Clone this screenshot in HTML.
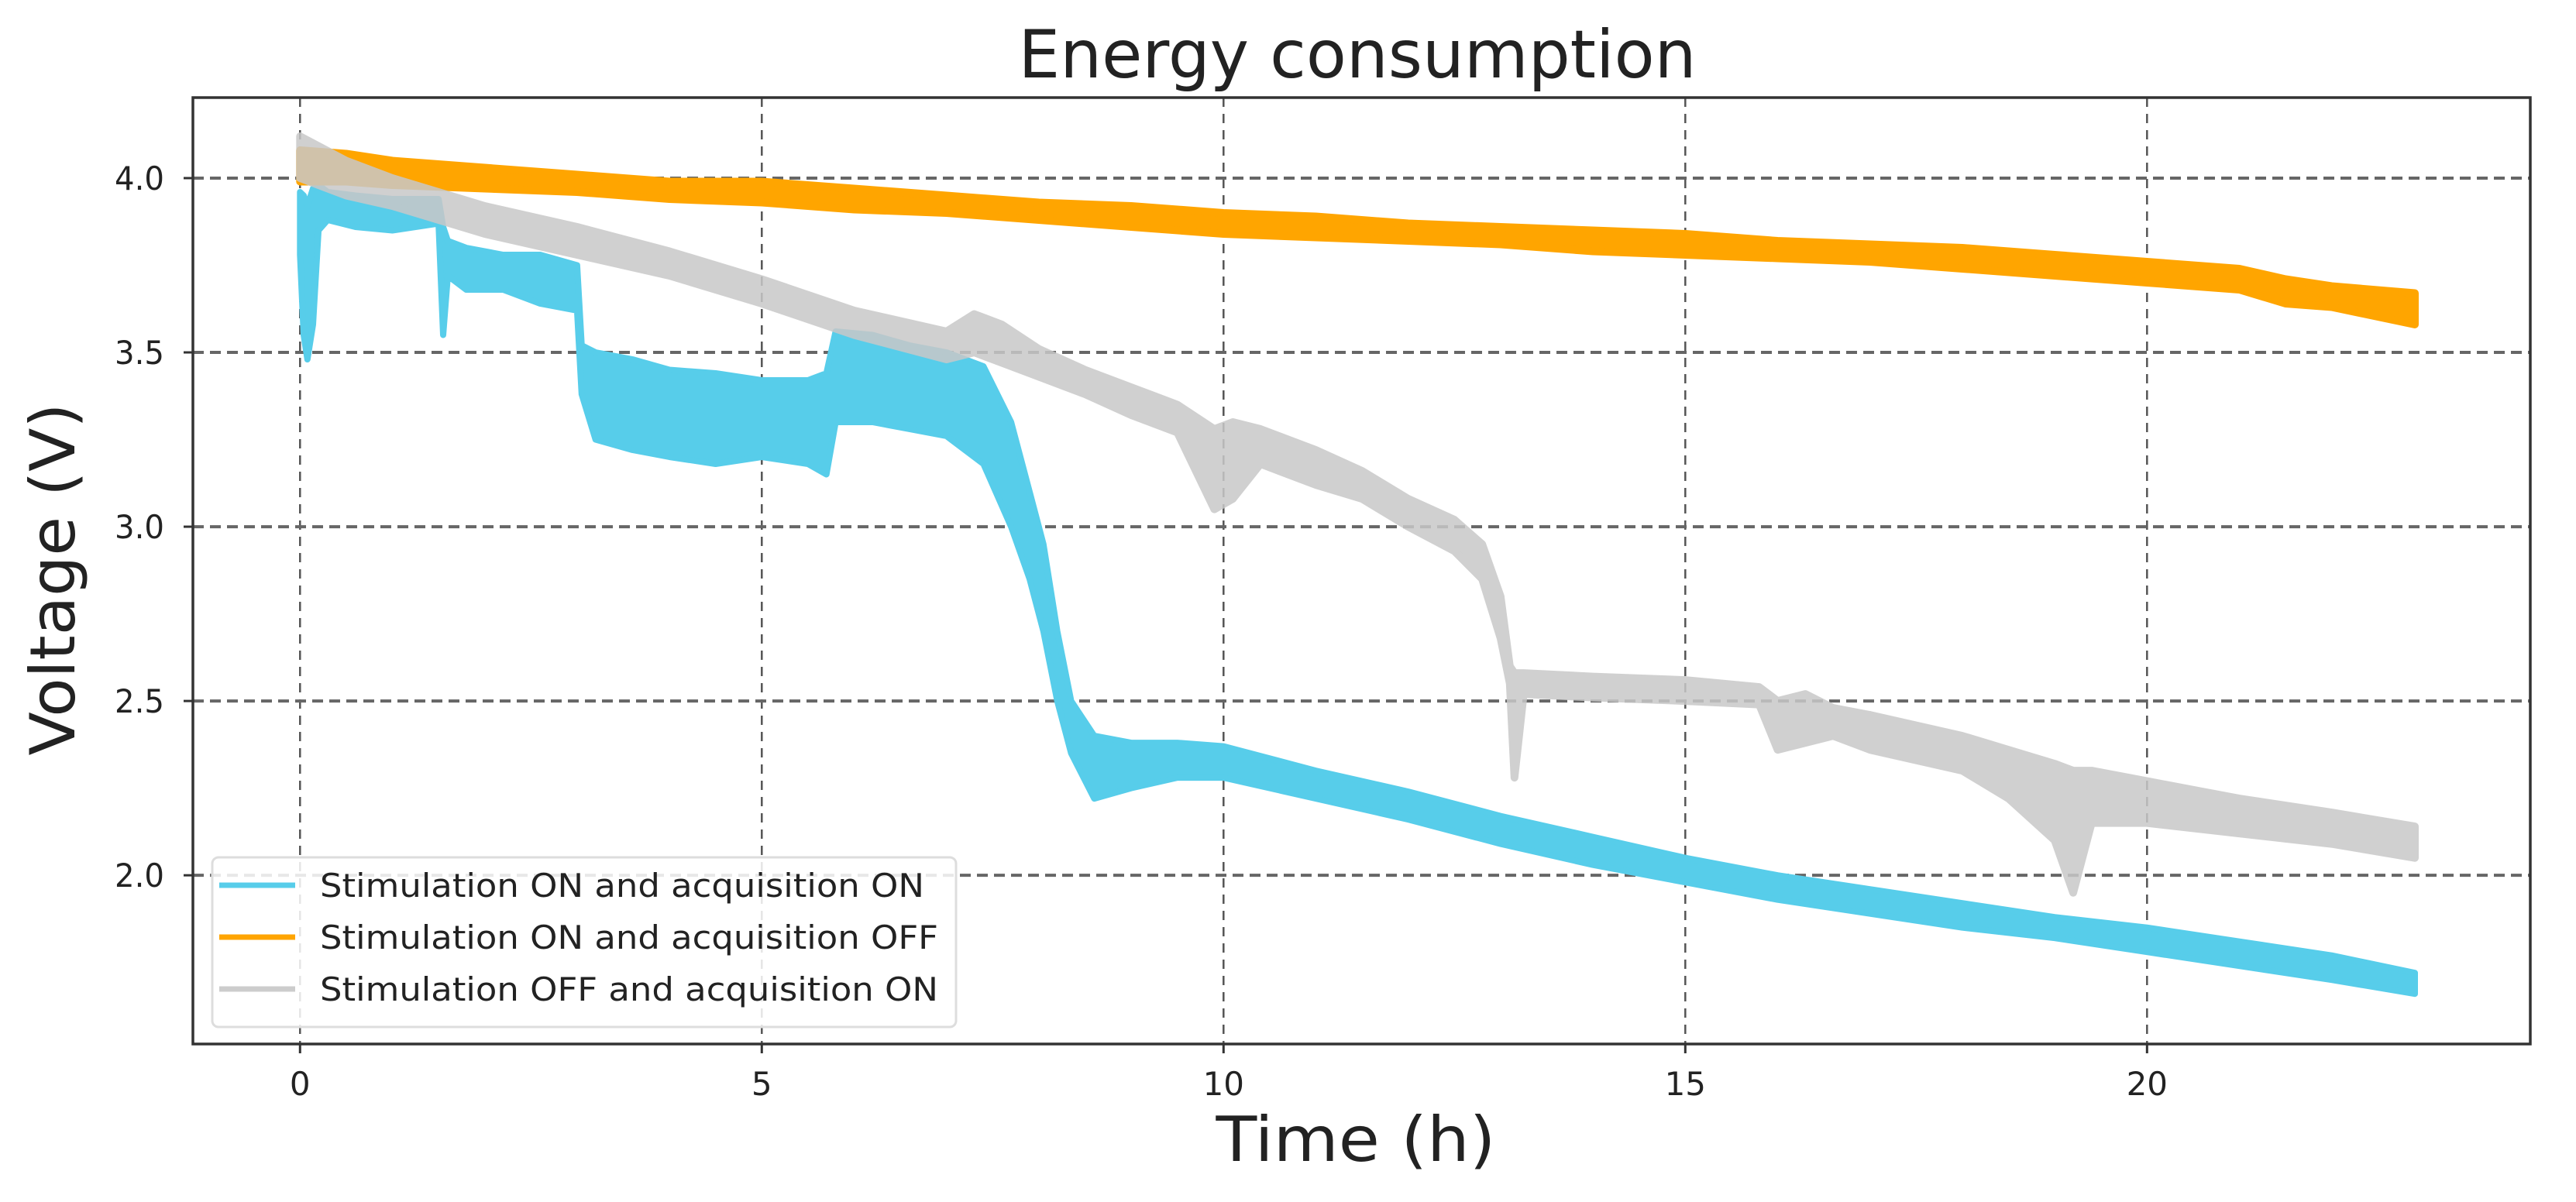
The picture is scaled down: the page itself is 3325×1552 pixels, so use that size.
<!DOCTYPE html>
<html><head><meta charset="utf-8"><title>Energy consumption</title>
<style>
html,body{margin:0;padding:0;background:#fff;}
svg{display:block;}
text{font-family:"DejaVu Sans","Liberation Sans",sans-serif;fill:#222;}
</style></head>
<body>
<svg id="chart" width="3325" height="1552" viewBox="0 0 3325 1552" xmlns="http://www.w3.org/2000/svg">
  <rect x="0" y="0" width="3325" height="1552" fill="#fff"/>
  <text x="1752" y="100" font-size="86" text-anchor="middle" textLength="875" lengthAdjust="spacingAndGlyphs">Energy consumption</text>
  <g id="grid"></g>
  <g id="series"></g>
  <rect x="249" y="126" width="3017" height="1222" fill="none" stroke="#333" stroke-width="3.5"/>
  <g id="ticks"></g>
  <text x="1750" y="1499" font-size="80" text-anchor="middle" textLength="361" lengthAdjust="spacingAndGlyphs">Time (h)</text>
  <text transform="translate(96,748) rotate(-90)" font-size="80" text-anchor="middle" textLength="455" lengthAdjust="spacingAndGlyphs">Voltage (V)</text>
  <g>
    <rect x="274" y="1107" width="960" height="219" rx="8" fill="#fff" fill-opacity="0.85" stroke="#ddd" stroke-width="3"/>
    <line x1="283" y1="1143" x2="381" y2="1143" stroke="#57cdea" stroke-width="7"/>
    <text x="413" y="1158" font-size="42" textLength="780" lengthAdjust="spacingAndGlyphs">Stimulation ON and acquisition ON</text>
    <line x1="283" y1="1210" x2="381" y2="1210" stroke="#ffa500" stroke-width="7"/>
    <text x="413" y="1225" font-size="42" textLength="798" lengthAdjust="spacingAndGlyphs">Stimulation ON and acquisition OFF</text>
    <line x1="283" y1="1277" x2="381" y2="1277" stroke="#cccccc" stroke-width="7"/>
    <text x="413" y="1292" font-size="42" textLength="798" lengthAdjust="spacingAndGlyphs">Stimulation OFF and acquisition ON</text>
  </g>
</svg>
<script>
const xTicks = [0, 5, 10, 15, 20];
const yTicks = [2.0, 2.5, 3.0, 3.5, 4.0];
const yTickLabels = ["2.0", "2.5", "3.0", "3.5", "4.0"];

const blueT  = [0, 0.04, 0.08, 0.14, 0.2, 0.3, 0.6, 1.0, 1.5, 1.55, 1.6, 1.8, 2.2, 2.6, 3.0, 3.05, 3.2, 3.6, 4.0, 4.5, 5.0, 5.5, 5.7, 5.8, 6.2, 6.6, 7.0, 7.4, 7.7, 7.9, 8.05, 8.2, 8.35, 8.6, 9.0, 9.5, 10, 11, 12, 13, 14, 15, 16, 17, 18, 19, 20, 21, 22, 22.9];
const blueLo = [3.78, 3.55, 3.48, 3.58, 3.85, 3.88, 3.86, 3.85, 3.87, 3.55, 3.72, 3.68, 3.68, 3.64, 3.62, 3.38, 3.25, 3.22, 3.2, 3.18, 3.2, 3.18, 3.15, 3.3, 3.3, 3.28, 3.26, 3.18, 3.0, 2.85, 2.7, 2.5, 2.35, 2.22, 2.25, 2.28, 2.28, 2.22, 2.16, 2.09, 2.03, 1.98, 1.93, 1.89, 1.85, 1.82, 1.78, 1.74, 1.70, 1.66];
const blueHi = [3.96, 3.95, 3.92, 3.97, 3.98, 3.96, 3.95, 3.94, 3.94, 3.86, 3.82, 3.8, 3.78, 3.78, 3.75, 3.52, 3.5, 3.48, 3.45, 3.44, 3.42, 3.42, 3.44, 3.56, 3.55, 3.52, 3.5, 3.46, 3.3, 3.1, 2.95, 2.7, 2.5, 2.4, 2.38, 2.38, 2.37, 2.3, 2.24, 2.17, 2.11, 2.05, 2.0, 1.96, 1.92, 1.88, 1.85, 1.81, 1.77, 1.72];

const orangeT  = [0, 0.5, 1, 2, 3, 4, 5, 6, 7, 8, 9, 10, 11, 12, 13, 14, 15, 16, 17, 18, 19, 20, 21, 21.5, 22, 22.9];
const orangeLo = [3.99, 3.99, 3.98, 3.97, 3.96, 3.94, 3.93, 3.91, 3.9, 3.88, 3.86, 3.84, 3.83, 3.82, 3.81, 3.79, 3.78, 3.77, 3.76, 3.74, 3.72, 3.7, 3.68, 3.64, 3.63, 3.58];
const orangeHi = [4.08, 4.07, 4.05, 4.03, 4.01, 3.99, 3.99, 3.97, 3.95, 3.93, 3.92, 3.9, 3.89, 3.87, 3.86, 3.85, 3.84, 3.82, 3.81, 3.8, 3.78, 3.76, 3.74, 3.71, 3.69, 3.67];

const grayT  = [0, 0.5, 1, 1.5, 2, 3, 4, 5, 6, 7, 7.3, 7.6, 8, 8.5, 9, 9.5, 9.9, 10.1, 10.4, 11, 11.5, 12, 12.5, 12.8, 13.0, 13.1, 13.15, 13.25, 14, 15, 15.8, 16.0, 16.3, 16.6, 17, 18, 18.5, 19, 19.2, 19.4, 20, 21, 22, 22.9];
const grayLo = [4.0, 3.95, 3.92, 3.88, 3.84, 3.78, 3.72, 3.64, 3.55, 3.48, 3.5, 3.47, 3.43, 3.38, 3.32, 3.27, 3.05, 3.08, 3.18, 3.12, 3.08, 3.0, 2.93, 2.85, 2.68, 2.55, 2.28, 2.52, 2.51, 2.5, 2.49, 2.36, 2.38, 2.4, 2.36, 2.3, 2.22, 2.1, 1.95, 2.15, 2.15, 2.12, 2.09, 2.05];
const grayHi = [4.12, 4.05, 4.0, 3.96, 3.92, 3.86, 3.79, 3.71, 3.62, 3.56, 3.61, 3.58, 3.51, 3.45, 3.4, 3.35, 3.28, 3.3, 3.28, 3.22, 3.16, 3.08, 3.02, 2.95, 2.8, 2.6, 2.58, 2.58, 2.57, 2.56, 2.54, 2.5, 2.52, 2.48, 2.46, 2.4, 2.36, 2.32, 2.3, 2.3, 2.27, 2.22, 2.18, 2.14];

const X0 = 249, X1 = 3266, Y0 = 126, Y1 = 1348;
const xMin = -1.16, xMax = 24.15, yMin = 1.516, yMax = 4.231;
function xs(v){ return X0 + (v - xMin) / (xMax - xMin) * (X1 - X0); }
function ys(v){ return Y1 - (v - yMin) / (yMax - yMin) * (Y1 - Y0); }
const NS = "http://www.w3.org/2000/svg";
function mk(tag, attrs){ const e = document.createElementNS(NS, tag); for (const k in attrs) e.setAttribute(k, attrs[k]); return e; }

const grid = document.getElementById('grid');
const ticks = document.getElementById('ticks');
xTicks.forEach(function(v){
  const x = xs(v);
  const g = mk('line', {x1:x, y1:Y0, x2:x, y2:Y1, stroke:'#555', 'stroke-width':2.5, 'stroke-dasharray':'12 9'});
  
  
  grid.appendChild(g);
  const t = mk('line', {x1:x, y1:Y1, x2:x, y2:Y1+12, stroke:'#333', 'stroke-width':3});
  
  
  ticks.appendChild(t);
  const l = mk('text', {x:x, y:1414, 'font-size':42, 'text-anchor':'middle'});
  
  
  l.textContent = String(v);
  ticks.appendChild(l);
});
yTicks.forEach(function(v, i){
  const y = ys(v);
  const g = mk('line', {x1:X0, y1:y, x2:X1, y2:y, stroke:'#666', 'stroke-width':4, 'stroke-dasharray':'14 8'});
  
  
  grid.appendChild(g);
  const t = mk('line', {x1:X0-12, y1:y, x2:X0, y2:y, stroke:'#333', 'stroke-width':3});
  
  
  ticks.appendChild(t);
  const l = mk('text', {x:212, y:y+15, 'font-size':42, 'text-anchor':'end', textLength:64, lengthAdjust:'spacingAndGlyphs'});
  
  
  l.textContent = yTickLabels[i];
  ticks.appendChild(l);
});

const layer = document.getElementById('series');
function band(T, lo, hi, color, opacity, sw, name){
  let d = '';
  for (let i = 0; i < T.length; i++) d += (i ? 'L' : 'M') + xs(T[i]).toFixed(1) + ',' + ys(hi[i]).toFixed(1);
  for (let i = T.length - 1; i >= 0; i--) d += 'L' + xs(T[i]).toFixed(1) + ',' + ys(lo[i]).toFixed(1);
  d += 'Z';
  const p = mk('path', {d:d, fill:color, stroke:color, 'stroke-width':sw, 'stroke-linejoin':'round', opacity:opacity});
  
  
  layer.appendChild(p);
}
band(blueT, blueLo, blueHi, '#57cdea', 1, 8, 'series-stim-on-acq-on');
band(orangeT, orangeLo, orangeHi, '#ffa500', 1, 10, 'series-stim-on-acq-off');
band(grayT, grayLo, grayHi, '#c8c8c8', 0.85, 10, 'series-stim-off-acq-on');
</script>
</body></html>
